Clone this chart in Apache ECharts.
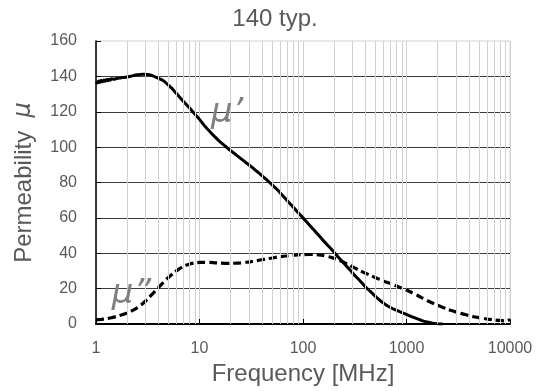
<!DOCTYPE html>
<html><head><meta charset="utf-8">
<script src="https://cdn.jsdelivr.net/npm/echarts@6/dist/echarts.min.js"></script>
<style>html,body{margin:0;padding:0;background:#fff}#c{width:550px;height:391px}</style>
</head><body><div id="c"></div><script>
const freqReal = [1,1.03,1.06,1.09,1.12,1.15,1.19,1.22,1.26,1.3,1.33,1.37,1.41,1.5,1.58,1.68,1.78,
  2,2.24,2.51,2.82,3.16,3.55,3.98,4.47,5.01,5.62,6.31,7.08,7.94,8.91,
  10,11.2,12.6,14.1,15.8,17.8,20,22.4,25.1,28.2,31.6,35.5,39.8,44.7,50.1,56.2,63.1,70.8,79.4,89.1,
  100,112,126,141,158,178,200,224,251,282,316,355,398,447,501,562,631,708,794,891,
  1000,1120,1260,1410,1580,1780,2000,2240];
const muReal = [137,136.2,137.4,136.5,137.8,136.9,138,137.2,138.2,137.5,138.4,137.8,138.6,138.4,138.8,139,139.3,
  139.6,140.3,140.9,141.2,141,140.3,139,137.6,135,132.2,128.8,125.5,122.4,119,
  115.7,112,108.8,105.8,103,100.5,98,95.8,93.5,91.2,89,86.5,84,81.5,78.8,76,72.8,69.6,66.4,63.2,
  60,56.8,53.5,50.3,47,43.8,40.5,37.2,34,30.8,27.5,24.5,21.2,18.4,15.6,13,10.9,9.2,7.8,6.6,
  5.4,4.2,3,1.9,1.1,0.5,0.2,0];
// mu'' (imaginary part)
const freqImag = [1,1.12,1.26,1.41,1.58,1.78,2,2.24,2.51,2.82,3.16,3.55,3.98,4.47,5.01,5.62,6.31,7.08,7.94,8.91,
  10,11.2,12.6,14.1,15.8,17.8,20,22.4,25.1,28.2,31.6,35.5,39.8,44.7,50.1,56.2,63.1,70.8,79.4,89.1,
  100,112,126,141,158,178,200,224,251,282,316,355,398,447,501,562,631,708,794,891,
  1000,1120,1260,1410,1580,1780,2000,2240,2510,2820,3160,3550,3980,4470,5010,5620,6310,7080,7940,8910,10000];
const muImag = [2.3,2.6,3.0,3.5,4.3,5.2,6.2,7.6,9.3,11.5,14.2,17.3,20.4,23.4,26.3,28.8,31,32.7,33.8,34.5,
  34.8,34.9,34.8,34.6,34.4,34.3,34.3,34.4,34.6,34.9,35.3,35.8,36.3,36.8,37.3,37.8,38.2,38.6,38.9,39.1,
  39.2,39.3,39.3,39.1,38.7,38,37.1,36,34.7,33.2,31.7,30.2,28.8,27.5,26.2,25,23.8,22.8,21.6,20.4,
  19.2,17.8,16.3,14.8,13.3,11.9,10.6,9.4,8.3,7.3,6.4,5.6,4.8,4.1,3.6,3.1,2.6,2.3,2,1.8,2.4];
const xTickLabels = ['1','10','100','1000','10000'];
const yMin = 0, yMax = 160, yStep = 20;
const decades = [1,10,100,1000];
const minorTicks = [];
decades.forEach(d => { for (let k = 2; k <= 9; k++) minorTicks.push(d*k); });

const textGray = '#595959';
const chart = echarts.init(document.getElementById('c'));
chart.setOption({
  animation: false,
  backgroundColor: '#fff',
  title: {
    text: '140 typ.', left: 'center', top: 2,
    textStyle: {color: textGray, fontSize: 24, fontWeight: 'normal', fontFamily: 'Liberation Sans'}
  },
  grid: {left: 96, right: 40, top: 41, bottom: 67, show: true, borderColor: '#d0d0d0', borderWidth: 1},
  xAxis: {
    type: 'log', logBase: 10, min: 1, max: 10000,
    name: 'Frequency [MHz]', nameLocation: 'middle', nameGap: 37,
    nameTextStyle: {color: textGray, fontSize: 24, fontFamily: 'Liberation Sans'},
    axisLine: {show: true, lineStyle: {color: '#000', width: 2}},
    axisTick: {show: true, inside: true, length: 5, lineStyle: {color: '#000', width: 1}},
    axisLabel: {color: textGray, fontSize: 16, fontFamily: 'Liberation Sans', margin: 17,
      formatter: v => { const i = Math.round(Math.log10(v)); return xTickLabels[i] || ''; }},
    splitLine: {show: true, lineStyle: {color: '#d0d0d0', width: 1}},
    minorTick: {show: false}, minorSplitLine: {show: false}
  },
  yAxis: {
    type: 'value', min: yMin, max: yMax, interval: yStep,
    name: '{a|Permeability}  {b|μ}', nameLocation: 'middle', nameGap: 60, nameRotate: 90,
    nameTextStyle: {color: textGray, fontSize: 24, fontFamily: 'Liberation Sans',
      rich: {
        a: {color: textGray, fontSize: 24, fontFamily: 'Liberation Sans'},
        b: {color: textGray, fontSize: 24, fontFamily: 'DejaVu Sans', fontStyle: 'italic'}
      }},
    axisLine: {show: true, lineStyle: {color: '#000', width: 1.5}},
    axisTick: {show: true, inside: true, length: 5, lineStyle: {color: '#000', width: 1}},
    axisLabel: {color: textGray, fontSize: 16, fontFamily: 'Liberation Sans', margin: 19},
    splitLine: {show: true, showMaxLine: false, lineStyle: {color: '#3a3a3a', width: 1.2}}
  },
  series: [
    {
      type: 'line', data: [], z: 1, silent: true,
      markLine: {
        silent: true, symbol: 'none', animation: false,
        label: {show: false},
        lineStyle: {color: '#d0d0d0', width: 1, type: 'solid'},
        emphasis: {disabled: true},
        data: minorTicks.map(v => ({xAxis: v}))
      }
    },
    {
      name: "mu'", type: 'line', showSymbol: false, smooth: 0.2,
      data: freqReal.map((f, i) => [f, muReal[i]]),
      lineStyle: {color: '#000', width: 3},
      z: 3,
      markPoint: {
        symbol: 'circle', symbolSize: 0, silent: true,
        label: {show: true, color: '#808080', fontSize: 34, fontStyle: 'italic', fontFamily: 'DejaVu Sans', formatter: 'μ’'},
        data: [{coord: [18.5, 119]}]
      }
    },
    {
      name: "mu''", type: 'line', showSymbol: false, smooth: 0.2,
      data: freqImag.map((f, i) => [f, muImag[i]]),
      lineStyle: {color: '#000', width: 3.2, type: [8, 4]},
      z: 3,
      markPoint: {
        symbol: 'circle', symbolSize: 0, silent: true,
        label: {show: true, color: '#808080', fontSize: 34, fontStyle: 'italic', fontFamily: 'DejaVu Sans', formatter: 'μ”'},
        data: [{coord: [2.2, 17]}]
      }
    }
  ]
});
</script></body></html>
